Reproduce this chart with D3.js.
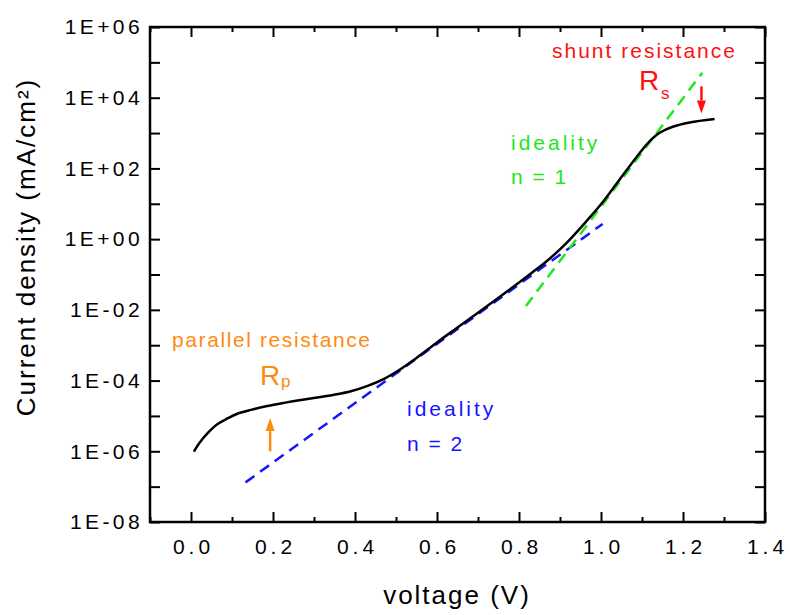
<!DOCTYPE html>
<html>
<head>
<meta charset="utf-8">
<script src="https://cdn.jsdelivr.net/npm/d3@7/dist/d3.min.js"></script>
<style>
  body { margin: 0; background: #fff; }
  svg text { font-family: "Liberation Sans", Arial, sans-serif; }
</style>
</head>
<body>
<svg id="chart" width="790" height="615"></svg>
<script>
// Measured J–V characteristic of the diode (voltage in V, current density in mA/cm²)
const voltage = [0.007, 0.020, 0.040, 0.064, 0.089, 0.113, 0.146, 0.186, 0.227, 0.268,
                 0.308, 0.349, 0.390, 0.431, 0.471, 0.500, 0.550, 0.600, 0.650, 0.700,
                 0.750, 0.800, 0.833, 0.874, 0.915, 0.956, 1.004, 1.045, 1.094, 1.123,
                 1.143, 1.175, 1.216, 1.277];
const currentDensity = [9.8e-7, 1.7e-6, 3.2e-6, 5.8e-6, 8.5e-6, 1.15e-5, 1.48e-5, 1.9e-5, 2.34e-5, 2.82e-5,
                        3.3e-5, 3.98e-5, 5.0e-5, 7.1e-5, 1.12e-4, 1.74e-4, 4.37e-4, 1.2e-3, 3.16e-3, 8.3e-3,
                        2.19e-2, 5.9e-2, 0.115, 0.275, 0.76, 2.5, 11, 48, 270, 660,
                        1020, 1510, 2000, 2510];

// Ideality n = 2 reference line (recombination regime)
const idealityTwoVoltage = [0.133, 1.004];
const idealityTwoCurrent = [1.32e-7, 2.7];

// Ideality n = 1 reference line (diffusion regime)
const idealityOneVoltage = [0.817, 1.247];
const idealityOneCurrent = [1.29e-2, 5.1e4];

// Axis ticks
const xMajorTicks = [0.0, 0.2, 0.4, 0.6, 0.8, 1.0, 1.2, 1.4];
const xMinorTicks = [-0.1, 0.1, 0.3, 0.5, 0.7, 0.9, 1.1, 1.3];
const yDecades = [1e-8, 1e-7, 1e-6, 1e-5, 1e-4, 1e-3, 1e-2, 1e-1, 1e0, 1e1, 1e2, 1e3, 1e4, 1e5, 1e6];
const yLabelledDecades = [1e-8, 1e-6, 1e-4, 1e-2, 1e0, 1e2, 1e4, 1e6];

const svg = d3.select("#chart");
const plotLeft = 150, plotRight = 765, plotTop = 27, plotBottom = 522;

const x = d3.scaleLinear().domain([-0.1, 1.4]).range([plotLeft, plotRight]);
const y = d3.scaleLog().domain([1e-8, 1e6]).range([plotBottom, plotTop]);

// minor log ticks: 2..9 inside every decade
const yMinorTicks = y.ticks().filter(d => !yDecades.some(e => Math.abs(d / e - 1) < 1e-9));

const expFormat = d => {
  const e = Math.round(Math.log10(d));
  return "1E" + (e < 0 ? "-" : "+") + String(Math.abs(e)).padStart(2, "0");
};

function styleAxis(g) {
  g.select(".domain").remove();
  g.selectAll(".tick line").attr("stroke", "#000").attr("stroke-width", 2);
  g.selectAll(".tick text")
    .attr("fill", "#000")
    .style("font-size", "21px")
    .style("font-family", "'Liberation Sans', Arial, sans-serif");
}

// bottom axis (labelled) and minor ticks
svg.append("g").attr("transform", `translate(0,${plotBottom})`)
  .call(d3.axisBottom(x).tickValues(xMajorTicks).tickSize(-10).tickPadding(17)
        .tickFormat(d3.format(".1f")))
  .call(styleAxis)
  .call(g => g.selectAll(".tick text").style("letter-spacing", "4px").attr("dx", "2px"));
svg.append("g").attr("transform", `translate(0,${plotBottom})`)
  .call(d3.axisBottom(x).tickValues(xMinorTicks).tickSize(-5).tickFormat(""))
  .call(styleAxis);

// top axis ticks
svg.append("g").attr("transform", `translate(0,${plotTop})`)
  .call(d3.axisTop(x).tickValues(xMajorTicks).tickSize(-10).tickFormat(""))
  .call(styleAxis);
svg.append("g").attr("transform", `translate(0,${plotTop})`)
  .call(d3.axisTop(x).tickValues(xMinorTicks).tickSize(-5).tickFormat(""))
  .call(styleAxis);

// left axis: every decade ticked, every second decade labelled
svg.append("g").attr("transform", `translate(${plotLeft},0)`)
  .call(d3.axisLeft(y).tickValues(yDecades).tickSize(-10).tickPadding(7)
        .tickFormat(d => yLabelledDecades.some(e => Math.abs(d / e - 1) < 1e-9) ? expFormat(d) : ""))
  .call(styleAxis)
  .call(g => g.selectAll(".tick text").style("letter-spacing", "3.4px"));
svg.append("g").attr("transform", `translate(${plotLeft},0)`)
  .call(d3.axisLeft(y).tickValues(yMinorTicks).tickSize(-5).tickFormat(""))
  .call(styleAxis);

// right axis ticks
svg.append("g").attr("transform", `translate(${plotRight},0)`)
  .call(d3.axisRight(y).tickValues(yDecades).tickSize(-10).tickFormat(""))
  .call(styleAxis);
svg.append("g").attr("transform", `translate(${plotRight},0)`)
  .call(d3.axisRight(y).tickValues(yMinorTicks).tickSize(-5).tickFormat(""))
  .call(styleAxis);

// plot frame
svg.append("rect")
  .attr("x", plotLeft).attr("y", plotTop)
  .attr("width", plotRight - plotLeft).attr("height", plotBottom - plotTop)
  .attr("fill", "none").attr("stroke", "#000").attr("stroke-width", 2.5);

// axis titles
svg.append("text")
  .attr("x", 457).attr("y", 604)
  .attr("text-anchor", "middle")
  .style("font-size", "26px").style("letter-spacing", "2px")
  .text("voltage (V)");
svg.append("text")
  .attr("transform", "translate(35,247) rotate(-90)")
  .attr("text-anchor", "middle")
  .style("font-size", "26px").style("letter-spacing", "2px")
  .text("Current density (mA/cm²)");

// reference lines
const straight = d3.line().x(d => x(d[0])).y(d => y(d[1]));
svg.append("path")
  .datum(d3.zip(idealityTwoVoltage, idealityTwoCurrent))
  .attr("d", straight)
  .attr("fill", "none").attr("stroke", "#1515ff").attr("stroke-width", 2.5)
  .attr("stroke-dasharray", "11,7");
svg.append("path")
  .datum(d3.zip(idealityOneVoltage, idealityOneCurrent))
  .attr("d", straight)
  .attr("fill", "none").attr("stroke", "#22e622").attr("stroke-width", 2.5)
  .attr("stroke-dasharray", "11,7");

// measured curve
const smooth = d3.line().x(d => x(d[0])).y(d => y(d[1])).curve(d3.curveCatmullRom.alpha(0.5));
svg.append("path")
  .datum(d3.zip(voltage, currentDensity))
  .attr("d", smooth)
  .attr("fill", "none").attr("stroke", "#000").attr("stroke-width", 2.5);

// arrows
function arrow(v, jFrom, jTo, color) {
  const x0 = x(v), y0 = y(jFrom), y1 = y(jTo);
  const dir = Math.sign(y1 - y0);
  const head = 13;
  svg.append("line")
    .attr("x1", x0).attr("x2", x0).attr("y1", y0).attr("y2", y1 - dir * head)
    .attr("stroke", color).attr("stroke-width", 2.5);
  svg.append("path")
    .attr("d", `M${x0 - 4.5},${y1 - dir * head} L${x0 + 4.5},${y1 - dir * head} L${x0},${y1} Z`)
    .attr("fill", color);
}
arrow(0.193, 1.0e-6, 8.7e-6, "#ff8a10");
arrow(1.245, 2.1e4, 3.6e3, "#ff1010");

// annotations
function label(tx, ty, text, color, size, spacing) {
  return svg.append("text").attr("x", tx).attr("y", ty)
    .attr("fill", color).style("font-size", size + "px")
    .style("letter-spacing", spacing + "px").text(text);
}
label(552, 58, "shunt resistance", "#ff1010", 21, 2);
label(639, 90, "R", "#ff1010", 28, 0);
label(661, 99, "s", "#ff1010", 17, 0);

label(511, 150, "ideality", "#22e622", 21, 3);
label(511, 184, "n = 1", "#22e622", 21, 2);

label(172, 347, "parallel resistance", "#ff8a10", 21, 1.6);
label(260, 385, "R", "#ff8a10", 28, 0);
label(281, 387, "p", "#ff8a10", 17, 0);

label(407, 416, "ideality", "#1515ff", 21, 3);
label(407, 451, "n = 2", "#1515ff", 21, 2);
</script>
</body>
</html>
